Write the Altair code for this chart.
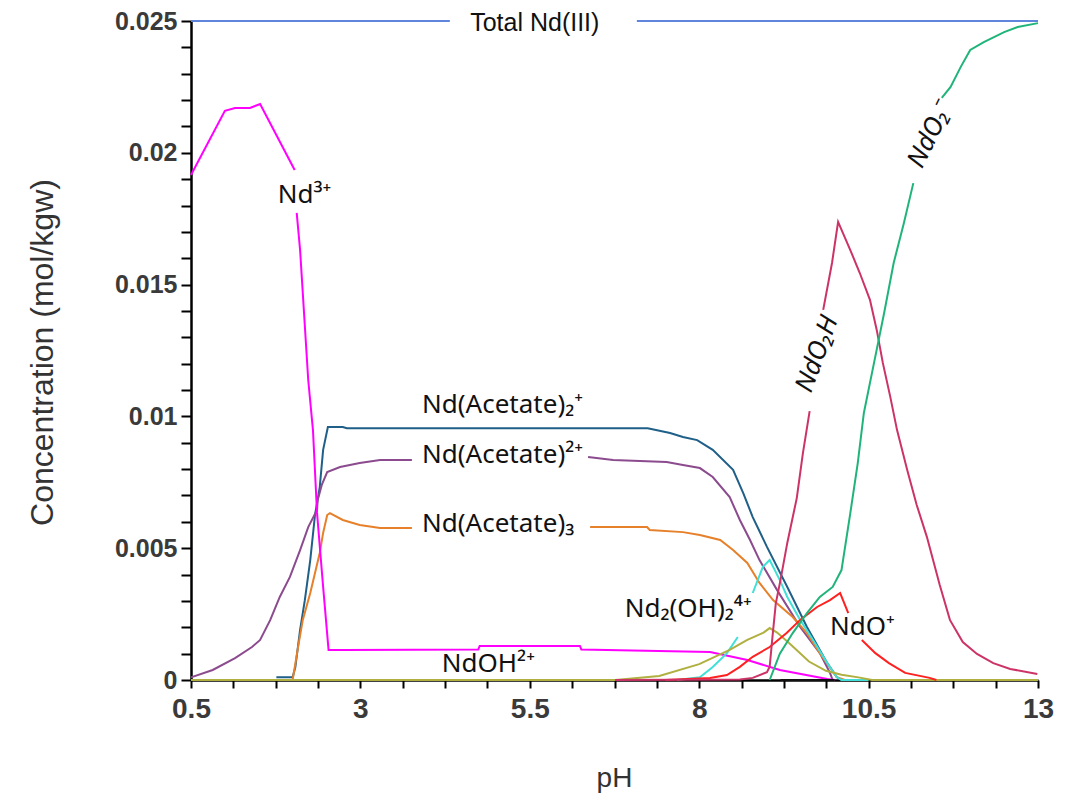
import altair as alt
import pandas as pd

# ---------------- data (None = gap in curve where a label sits) ----------------
total_ph = [0.5, 4.32, None, 7.08, 13.0]
total_c = [0.025, 0.025, None, 0.025, 0.025]

nd3_ph = [0.5, 1.0, 1.15, 1.37, 1.52, 2.03, None, 2.06, 2.11, 2.23, 2.30, 2.36, 2.45, 2.53,
          2.75, 4.74, 4.76, 6.24, 6.26, 8.16, 8.71, 9.19, 9.89, 10.0]
nd3_c = [0.01916, 0.02159, 0.0217, 0.0217, 0.02185, 0.01935, None, 0.01772, 0.01631, 0.01138,
         0.00948, 0.00634, 0.00353, 0.00114, 0.00114, 0.00116, 0.00129, 0.00129, 0.00116,
         0.00106, 0.00076, 0.00038, 0.00004, 0.0]

ac2p_ph = [1.76, 2.0, 2.04, 2.11, 2.18, 2.26, 2.33, 2.40, 2.45, 2.52, 2.74, 2.80, 7.24, 7.57,
           7.76, 7.97, 8.20, 8.50, 8.65, 8.79, 9.00, 9.30, 9.59, 9.89, 10.03, 10.1]
ac2p_c = [0.0001, 0.0001, 0.00049, 0.0019, 0.00303, 0.00455, 0.00626, 0.00732, 0.00873, 0.0096,
          0.0096, 0.00955, 0.00955, 0.00937, 0.00922, 0.0091, 0.00873, 0.00797, 0.00709, 0.00618,
          0.00505, 0.00353, 0.00201, 0.00064, 0.00011, 0.0]

ac1_ph = [0.5, 0.82, 1.15, 1.40, 1.52, 1.67, 1.81, 1.96, 2.11, 2.23, 2.36, 2.37, 2.43, 2.51,
          2.70, 2.99, 3.29, 3.76, None, 6.36, 6.73, 7.52, 7.76, 8.01, 8.20, 8.45, 8.60, 8.75,
          8.89, 9.15, 9.49, 9.78, 9.93, 9.97]
ac1_c = [0.0001, 0.00038, 0.00083, 0.00125, 0.00152, 0.00228, 0.00315, 0.00391, 0.00493, 0.0058,
         0.00645, 0.00683, 0.0074, 0.00789, 0.00808, 0.00823, 0.00835, 0.00835, None, 0.00846,
         0.00835, 0.00827, 0.00816, 0.00804, 0.0077, 0.00694, 0.00607, 0.00531, 0.00455,
         0.00341, 0.00201, 0.00102, 0.00027, 0.0]

ac3_ph = [2.0, 2.08, 2.15, 2.26, 2.33, 2.40, 2.45, 2.51, 2.55, 2.74, 2.99, 3.29, 3.76, None,
          6.39, 7.23, 7.27, 7.76, 8.01, 8.31, 8.50, 8.71, 8.89, 9.09, 9.38, 9.59, 9.78, 10.03, 10.15]
ac3_c = [0.0, 0.00125, 0.00228, 0.0033, 0.00406, 0.00482, 0.00558, 0.00626, 0.00633, 0.00607,
         0.00588, 0.00577, 0.00577, None, 0.0058, 0.0058, 0.00569, 0.00561, 0.0055, 0.00531,
         0.00493, 0.00444, 0.00368, 0.00303, 0.00239, 0.00178, 0.00102, 0.00011, 0.0]

dimer_ph = [7.67, 8.01, 8.20, 8.41, 8.57, None, 8.79, 8.94, 9.04, 9.19, 9.30, 9.49, 9.68, 9.89,
            10.03, 10.1, 10.5]
dimer_c = [0.0, 0.0001, 0.00049, 0.00102, 0.00163, None, 0.0033, 0.00429, 0.00455, 0.00379,
           0.00315, 0.00228, 0.00152, 0.00064, 0.00011, 0.0, 0.0]

ndoh_ph = [0.5, 6.76, 7.41, 8.0, 8.45, 8.71, 8.95, 9.04, 9.15, 9.35, 9.62, 9.87, 10.1, 10.35,
           10.55, 13.0]
ndoh_c = [0.0, 0.0, 0.00015, 0.0006, 0.00114, 0.00152, 0.0018, 0.00197, 0.0018, 0.00135,
          0.0007, 0.00035, 0.0002, 0.0001, 0.0, 0.0]

ndo_ph = [7.5, 8.16, 8.41, 8.60, 8.79, 9.04, 9.29, 9.49, 9.74, 9.93, 10.08, 10.2, None, 10.4,
          10.6, 10.8, 11.04, 11.4, 11.5]
ndo_c = [0.0, 0.00008, 0.00019, 0.0005, 0.00088, 0.00125, 0.00178, 0.00228, 0.00277, 0.00303,
         0.0033, 0.00254, None, 0.00152, 0.00102, 0.00064, 0.00027, 0.00008, 0.0]

ndo2h_ph = [6.76, 8.6, 8.79, 9.0, 9.04, 9.08, 9.13, 9.2, 9.3, 9.44, 9.53, 9.63, None, 9.83,
            9.96, 10.05, 10.23, 10.37, 10.52, 10.62, 10.71, 10.82, 10.92, 11.07, 11.21, 11.36,
            11.55, 11.70, 11.89, 12.1, 12.34, 12.59, 12.99]
ndo2h_c = [0.0, 0.00002, 0.00008, 0.0003, 0.0005, 0.0016, 0.0029, 0.0038, 0.0052, 0.0069,
           0.0086, 0.0102, None, 0.01404, 0.01582, 0.01738, 0.01631, 0.01544, 0.01442, 0.01328,
           0.01203, 0.01074, 0.00948, 0.00797, 0.00664, 0.00543, 0.0036, 0.00228, 0.00144,
           0.00099, 0.00064, 0.00042, 0.00023]

ndo2_ph = [9.04, 9.19, 9.38, 9.59, 9.78, 9.97, 10.1, 10.23, 10.34, 10.43, 10.58, 10.73, 10.87,
           11.02, 11.16, None, 11.58, 11.71, 11.86, 12.0, 12.2, 12.5, 12.7, 13.0]
ndo2_c = [0.0, 0.001, 0.00178, 0.00254, 0.00315, 0.00353, 0.00417, 0.00633, 0.00823, 0.01013,
          0.01203, 0.01393, 0.01582, 0.01733, 0.01885, None, 0.02208, 0.0225, 0.02326, 0.0239,
          0.0242, 0.02458, 0.02477, 0.02492]

other_ph = [9.2, 10.0]
other_c = [0.0, 0.0]

series_names = ["Total", "Nd(Acetate)2+", "Nd(Acetate)2+ion", "Nd(Acetate)3", "Nd3+",
                "Nd2(OH)2", "NdOH", "NdO+", "NdO2H", "NdO2-", "other"]
series_colors = ["#5f86dc", "#1f5f88", "#8b4b8e", "#e6802a", "#ff00ff",
                 "#40e0d8", "#b0b040", "#ff2020", "#cc3366", "#20b47a", "#111111"]
series_data = [(total_ph, total_c), (ac2p_ph, ac2p_c), (ac1_ph, ac1_c), (ac3_ph, ac3_c),
               (nd3_ph, nd3_c), (dimer_ph, dimer_c), (ndoh_ph, ndoh_c), (ndo_ph, ndo_c),
               (ndo2h_ph, ndo2h_c), (ndo2_ph, ndo2_c), (other_ph, other_c)]

# top label (baseline just under the total line)
top_text = ["Total Nd(III)"]
top_ph = [4.62]
top_c = [0.02462]

# labels (left-aligned, baseline at given value)
lab_text = ["Nd³⁺", "Nd(Acetate)₂⁺", "Nd(Acetate)²⁺", "Nd(Acetate)₃",
            "Nd₂(OH)₂⁴⁺", "NdOH²⁺", "NdO⁺"]
lab_ph = [1.78, 3.91, 3.91, 3.91, 6.90, 4.20, 9.93]
lab_c = [0.0181, 0.01013, 0.00823, 0.00561, 0.00239, 0.0003, 0.0017]

rot_text = ["NdO₂H", "NdO₂⁻"]
rot_ph = [9.74, 11.41]
rot_c = [0.01237, 0.0207]
rot_angle = [290, 296]

y_ticks = [0.0, 0.001, 0.002, 0.003, 0.004, 0.005, 0.006, 0.007, 0.008, 0.009, 0.01, 0.011,
           0.012, 0.013, 0.014, 0.015, 0.016, 0.017, 0.018, 0.019, 0.02, 0.021, 0.022, 0.023,
           0.024, 0.025]
x_ticks = [0.5, 1.125, 1.75, 2.375, 3.0, 3.625, 4.25, 4.875, 5.5, 6.125, 6.75, 7.375, 8.0,
           8.625, 9.25, 9.875, 10.5, 11.125, 11.75, 12.375, 13.0]

# ---------------- build tables ----------------
rows = []
for name, (phs, cs) in zip(series_names, series_data):
    seg = 0
    for i, (p, v) in enumerate(zip(phs, cs)):
        if p is None:
            seg += 1
            continue
        rows.append({"species": name, "seg": f"{name}-{seg}", "ph": p, "c": v, "i": i})
df = pd.DataFrame(rows)
top_df = pd.DataFrame({"label": top_text, "ph": top_ph, "c": top_c})
lab_df = pd.DataFrame({"label": lab_text, "ph": lab_ph, "c": lab_c})
rot_df = pd.DataFrame({"label": rot_text, "ph": rot_ph, "c": rot_c, "angle": rot_angle})

axis_font = "Liberation Sans"
x_axis = alt.Axis(values=x_ticks, title="pH",
                  labelExpr="abs((datum.value-0.5)/2.5 - round((datum.value-0.5)/2.5)) < 0.001 ? format(datum.value, '~g') : ''",
                  labelFont=axis_font, labelFontSize=28, labelFontWeight="bold", labelColor="#3a3a3a",
                  labelPadding=7, labelFlush=False, labelOverlap=False,
                  tickSize=8, tickWidth=2, tickColor="black", domainColor="black", domainWidth=2.5,
                  grid=False, titleFont=axis_font, titleFontSize=28, titleFontWeight="normal",
                  titleColor="#333333", titleX=423, titleY=98, titleAlign="center",
                  titleBaseline="middle")
y_axis = alt.Axis(values=y_ticks, title="Concentration (mol/kgw)",
                  labelExpr="round(datum.value*1000) % 5 == 0 ? format(datum.value, '~g') : ''",
                  labelFont=axis_font, labelFontSize=25, labelFontWeight="bold", labelColor="#3a3a3a",
                  labelPadding=4, labelFlush=False, labelOverlap=False,
                  tickSize=10, tickWidth=2, tickColor="black", domainColor="black", domainWidth=2.5,
                  grid=False, titleFont=axis_font, titleFontSize=32, titleFontWeight="normal",
                  titleColor="#333333", titleX=-149, titleY=331, titleAngle=270,
                  titleAlign="center", titleBaseline="middle")

xs = alt.Scale(domain=[0.5, 13], nice=False, zero=False)
ys = alt.Scale(domain=[0, 0.025], nice=False)

X = alt.X("ph:Q", scale=xs, axis=x_axis)
Y = alt.Y("c:Q", scale=ys, axis=y_axis)

lines = alt.Chart(df).mark_line(strokeWidth=2).encode(
    x=X, y=Y,
    color=alt.Color("species:N", scale=alt.Scale(domain=series_names, range=series_colors),
                    legend=None),
    detail="seg:N",
    order="i:Q",
)

top_label = alt.Chart(top_df).mark_text(align="left", baseline="alphabetic",
                                        font="Liberation Sans", fontSize=25,
                                        color="#111111").encode(
    x=X, y=Y, text="label:N",
)

labels = alt.Chart(lab_df).mark_text(align="left", baseline="alphabetic", font="Noto Sans",
                                     fontSize=26, color="#111111").encode(
    x=X, y=Y, text="label:N",
)

rot_labels = alt.Chart(rot_df).mark_text(align="center", baseline="middle", font="Noto Sans",
                                         fontSize=26, fontStyle="italic", color="#111111").encode(
    x=X, y=Y, text="label:N",
    angle=alt.Angle("angle:Q", scale=None),
)

chart = alt.layer(lines, top_label, labels, rot_labels).properties(
    width=847, height=659,
    autosize=alt.AutoSizeParams(type="none"),
    padding={"left": 183, "top": 13, "right": 30, "bottom": 118},
    background="white",
).configure_view(stroke=None)

chart.save("out.html", embed_options={"renderer": "svg", "actions": False})
